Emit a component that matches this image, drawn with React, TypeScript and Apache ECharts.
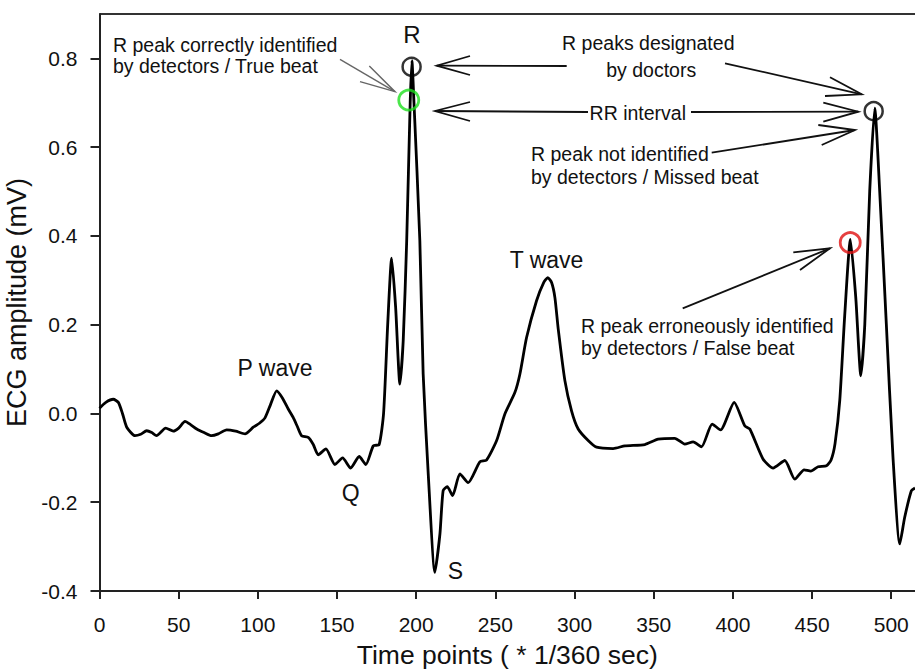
import React, { useEffect, useRef } from "react";
import * as echarts from "echarts";

// ECG trace (time points, amplitude in mV)
const timePoints = [
  0, 4, 8.7, 11.9, 14.5, 17.2, 22.4, 26, 29.8, 33, 36, 41.8, 46.6, 50, 54, 57.5, 61.4, 66, 70.8, 75,
  80.3, 86, 91.9, 97.1, 101, 104.5, 108, 111.9, 115.5, 119.2, 122.3, 125, 127.6, 131.8, 135, 138.1,
  143, 148.7, 153.5, 158.6, 164, 168.2, 172.9, 176.6, 179.4, 182, 184.5, 187, 189.7, 191.8, 194,
  196.2, 197.3, 198.6, 202.3, 204.4, 207.6, 211.8, 215, 217, 219.6, 223, 227.6, 232.8, 240.2, 244.4,
  250.8, 256, 262.3, 265.5, 269.7, 276, 280.5, 283.1, 285.5, 287.6, 289.7, 293.9, 298.1, 302.3,
  308.6, 313.9, 324.4, 331.8, 344.4, 352.8, 363.3, 369.6, 374.9, 380.2, 386.9, 392.2, 400.8, 407.5,
  410.7, 419.1, 425.4, 432.8, 439.1, 445, 449.2, 453.8, 459.1, 462, 464.5, 467.5, 470.6, 474.2,
  477.6, 480.8, 483.3, 486.4, 489.6, 492.7, 496.9, 501.1, 505.4, 508.5, 512.7, 515,
];
const amplitudes = [
  0.012, 0.025, 0.032, 0.025, 0.0, -0.031, -0.05, -0.047, -0.039, -0.043, -0.05, -0.033, -0.04,
  -0.033, -0.018, -0.025, -0.035, -0.043, -0.05, -0.046, -0.037, -0.04, -0.046, -0.031, -0.022,
  -0.01, 0.02, 0.051, 0.035, 0.01, -0.009, -0.03, -0.05, -0.054, -0.07, -0.093, -0.08, -0.115, -0.1,
  -0.123, -0.097, -0.115, -0.073, -0.07, 0.0, 0.2, 0.35, 0.24, 0.066, 0.164, 0.389, 0.7, 0.795, 0.7,
  0.389, 0.089, -0.136, -0.358, -0.271, -0.174, -0.165, -0.185, -0.136, -0.156, -0.109, -0.105,
  -0.061, -0.001, 0.047, 0.089, 0.171, 0.254, 0.295, 0.306, 0.295, 0.261, 0.19, 0.074, 0.006,
  -0.035, -0.061, -0.076, -0.079, -0.073, -0.07, -0.058, -0.056, -0.069, -0.064, -0.075, -0.024,
  -0.037, 0.025, -0.028, -0.035, -0.103, -0.123, -0.106, -0.148, -0.127, -0.13, -0.12, -0.118,
  -0.105, -0.068, 0.03, 0.22, 0.392, 0.261, 0.085, 0.201, 0.501, 0.688, 0.501, 0.201, -0.099,
  -0.294, -0.234, -0.174, -0.168,
];

// Marked peaks
const doctorPeaks = [
  [197.1, 0.781],
  [488.9, 0.681],
];
const truePeaks = [[195.3, 0.706]];
const falsePeaks = [[474.1, 0.385]];

const xTicks = { min: 0, max: 515, interval: 50 };
const yTicks = { min: -0.4, max: 0.9, interval: 0.2 };

const FONT = "Liberation Sans, Arial, Helvetica, sans-serif";
const INK = "#111";

function arrow(start: number[], tip: number[], w1: number[], w2: number[], color = "#111", width = 1.8) {
  return [
    {
      type: "line",
      shape: { x1: start[0], y1: start[1], x2: tip[0], y2: tip[1] },
      style: { stroke: color, lineWidth: width },
      silent: true,
    },
    {
      type: "polyline",
      shape: { points: [w1, tip, w2] },
      style: { stroke: color, lineWidth: width, fill: null },
      silent: true,
    },
  ];
}

function label(text: string, x: number, y: number, size: number, align: string = "left") {
  return {
    type: "text",
    x,
    y,
    silent: true,
    style: {
      text,
      fontSize: size,
      fontFamily: FONT,
      fill: INK,
      align,
      verticalAlign: "middle",
    },
  };
}

export default function App() {
  const ref = useRef<HTMLDivElement>(null);

  useEffect(() => {
    if (!ref.current) return;
    const chart = echarts.init(ref.current, null, { renderer: "svg" });
    const ecg = timePoints.map((t, i) => [t, amplitudes[i]]);
    const ann = 19.5;
    const wave = 23;

    const graphics: any[] = [
      {
        type: "line",
        shape: { x1: 99.5, y1: 14, x2: 915, y2: 14 },
        style: { stroke: "#333", lineWidth: 2 },
        silent: true,
      },
      label("R peak correctly identified", 113, 45.3, ann),
      label("by detectors / True beat", 113, 66.2, ann),
      label("R peaks designated", 648.3, 43, ann, "center"),
      label("by doctors", 651.2, 70.3, ann, "center"),
      label("RR interval", 637.8, 112.5, ann, "center"),
      label("R peak not identified", 531, 154, ann),
      label("by detectors / Missed beat", 531, 176.5, ann),
      label("R peak erroneously identified", 581, 325.5, ann),
      label("by detectors / False beat", 581, 347.5, ann),
      label("R", 412, 34, 24, "center"),
      label("P wave", 275, 367.5, wave, "center"),
      label("T wave", 546.5, 259.5, wave, "center"),
      label("Q", 350.7, 493, wave, "center"),
      label("S", 455.5, 571, wave, "center"),
      ...arrow([340, 59.3], [395, 91.7], [369.3, 66], [360, 81.7], "#666", 1.4),
      ...arrow([566.7, 66], [436.7, 65.7], [470, 56], [470, 75]),
      ...arrow([588, 112], [435, 111], [470, 102], [470, 121]),
      ...arrow([691, 112], [858.3, 111.7], [823.3, 102.7], [823.3, 121.7]),
      ...arrow([725, 63.3], [861.7, 94.3], [830, 77.3], [825, 96]),
      ...arrow([711.7, 152.7], [855, 130], [818.3, 125], [821.7, 145]),
      ...arrow([682.7, 308.3], [830, 248.3], [793.3, 252.3], [800, 270]),
    ];

    chart.setOption({
      animation: false,
      backgroundColor: "#fff",
      grid: {
        left: 99.5,
        right: 0,
        top: 14,
        bottom: 79,
        containLabel: false,
        outerBoundsMode: "none",
      },
      xAxis: {
        type: "value",
        min: xTicks.min,
        max: xTicks.max,
        interval: xTicks.interval,
        name: "Time points ( * 1/360 sec)",
        nameLocation: "middle",
        nameGap: 51,
        nameTextStyle: { fontSize: 26.5, lineHeight: 26, fontFamily: FONT, color: INK },
        axisLine: { show: true, onZero: false, lineStyle: { color: "#222", width: 2 } },
        axisTick: { show: true, inside: false, length: 8, lineStyle: { color: "#222", width: 2 } },
        axisLabel: {
          fontSize: 21,
          fontFamily: FONT,
          color: INK,
          margin: 23,
          showMaxLabel: false,
          formatter: (v: number) => (v % 50 === 0 && v <= 500 ? String(v) : ""),
        },
        splitLine: { show: false },
      },
      yAxis: {
        type: "value",
        min: yTicks.min,
        max: yTicks.max,
        interval: yTicks.interval,
        name: "ECG amplitude (mV)",
        nameLocation: "middle",
        nameGap: 60,
        nameRotate: 90,
        nameTextStyle: { fontSize: 27, fontFamily: FONT, color: INK },
        axisLine: { show: true, onZero: false, lineStyle: { color: "#222", width: 2 } },
        axisTick: { show: true, inside: false, length: 9, lineStyle: { color: "#222", width: 2 } },
        axisLabel: {
          fontSize: 21,
          fontFamily: FONT,
          color: INK,
          margin: 22,
          showMaxLabel: false,
          formatter: (v: number) => (v > 0.85 ? "" : v.toFixed(1)),
        },
        splitLine: { show: false },
      },
      series: [
        {
          type: "line",
          data: ecg,
          smooth: 0.2,
          symbol: "none",
          lineStyle: { color: "#000", width: 2.8 },
          z: 3,
        },
        {
          type: "scatter",
          data: doctorPeaks,
          symbol: "circle",
          symbolSize: 18,
          itemStyle: { color: "rgba(0,0,0,0)", borderColor: "#000", borderWidth: 2.5 },
          z: 4,
        },
        {
          type: "scatter",
          data: truePeaks,
          symbol: "circle",
          symbolSize: 20,
          itemStyle: { color: "rgba(0,0,0,0)", borderColor: "#1ee01e", borderWidth: 2.8 },
          z: 4,
        },
        {
          type: "scatter",
          data: falsePeaks,
          symbol: "circle",
          symbolSize: 20,
          itemStyle: { color: "rgba(0,0,0,0)", borderColor: "#e01010", borderWidth: 2.8 },
          z: 4,
        },
      ],
      graphic: graphics,
    });

    return () => chart.dispose();
  }, []);

  return (
    <div
      ref={ref}
      style={{ position: "fixed", left: 0, top: 0, width: 915, height: 670, background: "#fff" }}
    />
  );
}
